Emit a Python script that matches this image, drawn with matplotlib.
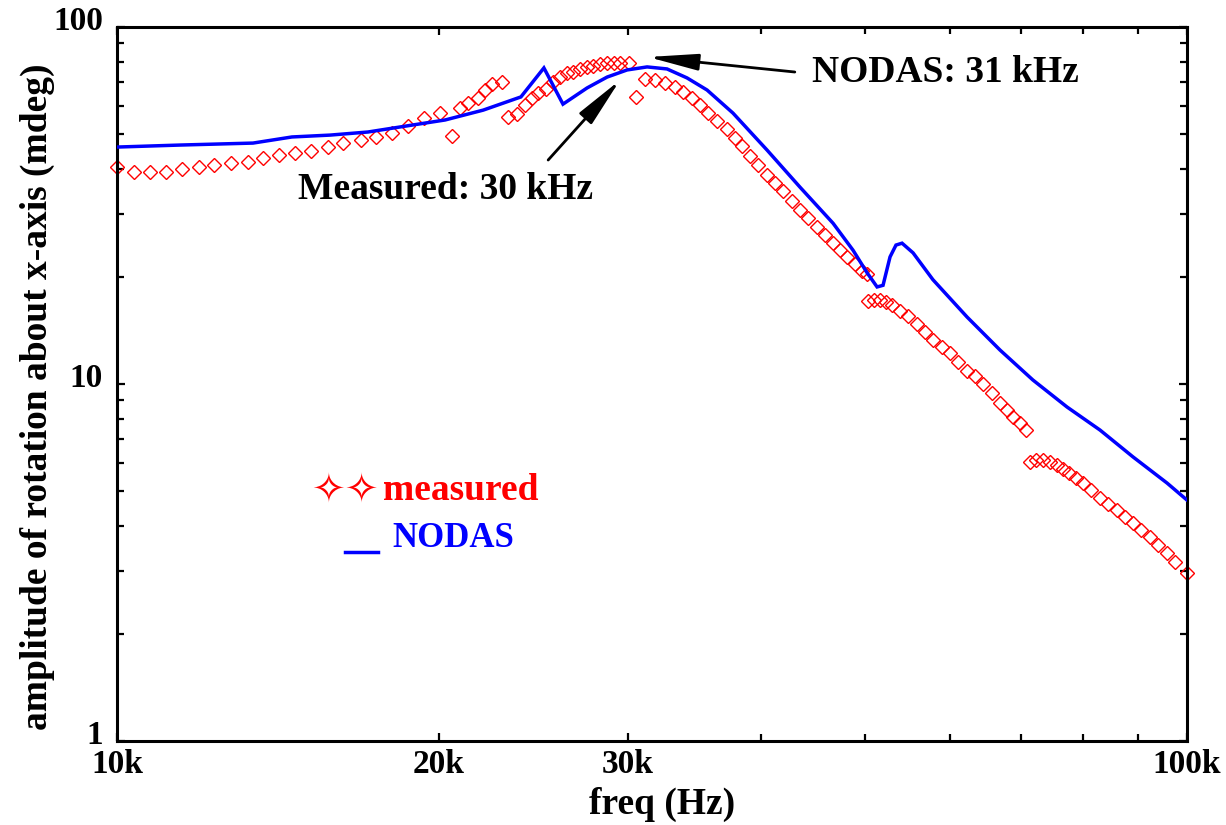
import matplotlib
matplotlib.use("Agg")
from matplotlib import pyplot as plt
from matplotlib.ticker import FixedLocator, NullFormatter
from matplotlib.lines import Line2D
from matplotlib.transforms import ScaledTranslation

# NODAS simulation (blue line)
nodas_freq = [10000, 11450, 13400, 14570, 15820, 17160, 18630, 20260, 21990, 23850,
              25060, 26110, 27500, 28710, 29970, 31290, 32660, 34100, 35600, 37640,
              40510, 43480, 46690, 48740, 50230, 51330, 51990, 52780, 53460, 54160,
              55460, 57880, 62300, 66870, 71780, 77250, 82930, 89020, 95790, 100000]
nodas_amp = [46.1, 46.7, 47.3, 49.2, 49.8, 50.8, 52.8, 54.9, 58.5, 63.7,
             76.8, 60.8, 67.5, 72.4, 75.8, 77.3, 76.3, 72.0, 66.6, 57.4,
             45.2, 35.6, 28.2, 23.7, 20.5, 18.7, 18.9, 22.7, 24.5, 24.8,
             23.3, 19.6, 15.4, 12.45, 10.26, 8.62, 7.43, 6.25, 5.28, 4.73]

# measured data (red diamonds)
meas_freq = [10000, 10370, 10740, 11110, 11500, 11930, 12320, 12780, 13260, 13690,
             14170, 14670, 15180, 15750, 16260, 16900, 17460, 18070, 18710, 19360, 20040,
             20560, 20920, 21280, 21750, 22080, 22420, 22900,
             23200, 23650, 24060, 24430, 24750, 25180, 25560, 25940, 26340, 26680,
             27080, 27500, 27860, 28280, 28710, 29110, 29520, 30090,
             30550,
             31150, 31830, 32520, 33230, 33810, 34460, 35060, 35670, 36370, 37160,
             37800, 38380, 39040, 39720, 40510, 41210, 41930, 42740, 43480, 44230,
             45100, 45880, 46690, 47380, 48100, 48940, 49680, 50230,
             50340, 50990, 51650, 52320, 53000, 53920, 54860, 55920, 56890, 57880,
             59020, 60040, 61090, 62300, 63370, 64460, 65730, 66870, 67880, 68770,
             69820, 70720,
             71330, 72250, 73350, 74470, 75600, 76580, 77570, 78760, 79950, 81340,
             82930, 84370, 86020, 87520, 89020, 90580, 92330, 93950, 95790, 97450, 100000]
meas_amp = [40.5, 39.3, 39.3, 39.3, 40.0, 40.5, 41.1, 41.6, 41.9, 43.0,
            43.8, 44.4, 45.0, 46.1, 47.3, 48.3, 49.2, 50.5, 52.8, 55.6, 57.4,
            49.5, 59.3, 61.3, 63.2, 66.6, 69.2, 70.1,
            56.0, 57.1, 60.4, 63.2, 65.3, 67.1, 70.1, 72.4, 74.3, 74.8,
            76.3, 77.3, 77.8, 78.8, 79.3, 79.3, 79.3, 79.3,
            63.7,
            71.5, 71.0, 69.7, 67.9, 65.8, 63.2, 60.4, 57.4, 54.5, 51.8,
            48.9, 46.4, 43.5, 41.1, 38.5, 36.6, 34.7, 32.6, 30.7, 29.2,
            27.5, 26.1, 24.8, 23.7, 22.7, 21.7, 20.7, 20.3,
            17.1, 17.2, 17.2, 17.0, 16.6, 16.0, 15.5, 14.7, 14.0, 13.3,
            12.7, 12.2, 11.5, 10.9, 10.5, 10.0, 9.44, 8.85, 8.46, 8.08,
            7.78, 7.43,
            6.05, 6.13, 6.13, 6.05, 5.93, 5.78, 5.63, 5.45, 5.28, 5.05,
            4.79, 4.61, 4.44, 4.24, 4.08, 3.90, 3.73, 3.54, 3.36, 3.17, 2.95]

x_major = [10000, 20000, 30000, 100000]
x_major_labels = ["10k", "20k", "30k", "100k"]
x_minor = [40000, 50000, 60000, 70000, 80000, 90000]
y_major = [1, 10, 100]
y_major_labels = ["1", "10", "100"]
y_minor = [2, 3, 4, 5, 6, 7, 8, 9, 20, 30, 40, 50, 60, 70, 80, 90]

# peak annotations: (label, arrow tip, arrow tail)
nodas_peak = ("NODAS: 31 kHz", (31350, 82.4), (43000, 74.8))
meas_peak = ("Measured: 30 kHz", (29520, 71.0), (25290, 42.4))

SERIF = "Liberation Serif"

fig = plt.figure(figsize=(12.26, 8.25), dpi=100)
ax = fig.add_axes([117 / 1226, 1 - 741 / 825, 1070 / 1226, 714 / 825])
ax.set_xscale("log")
ax.set_yscale("log")
ax.set_xlim(10000, 100000)
ax.set_ylim(1, 100)

ax.plot(nodas_freq, nodas_amp, color="#0000ff", lw=2.5, solid_joinstyle="miter", zorder=3)
ax.plot(meas_freq, meas_amp, ls="none", marker="D", ms=7.2, mfc="none", mec="#ff0000",
        mew=1.0, clip_on=False, zorder=2)

# ticks
ax.xaxis.set_major_locator(FixedLocator(x_major))
ax.xaxis.set_minor_locator(FixedLocator(x_minor))
ax.set_xticklabels(x_major_labels)
ax.xaxis.set_minor_formatter(NullFormatter())
ax.yaxis.set_major_locator(FixedLocator(y_major))
ax.yaxis.set_minor_locator(FixedLocator(y_minor))
ax.set_yticklabels(y_major_labels)
ax.yaxis.set_minor_formatter(NullFormatter())
ax.tick_params(which="both", direction="in", top=True, right=True, width=1.6, color="black")
ax.tick_params(which="major", length=6)
ax.tick_params(which="minor", length=5)
ax.tick_params(axis="x", which="major", pad=6)
ax.tick_params(axis="y", which="major", pad=10)
for lab in ax.get_xticklabels() + ax.get_yticklabels():
    lab.set_fontfamily(SERIF)
    lab.set_fontweight("bold")
    lab.set_fontsize(24)
# y labels sit a bit above their ticks in the original
up = ScaledTranslation(0, 9 / 100, fig.dpi_scale_trans)
for lab in ax.get_yticklabels():
    lab.set_transform(lab.get_transform() + up)
for sp in ax.spines.values():
    sp.set_linewidth(2.2)

ax.set_xlabel("freq (Hz)", fontfamily=SERIF, fontweight="bold", fontsize=27)
ax.xaxis.set_label_coords(0.509, -0.064)
ax.set_ylabel("amplitude of rotation about x-axis (mdeg)", fontfamily=SERIF,
              fontweight="bold", fontsize=27)
ax.yaxis.set_label_coords(-0.058, 0.482)

# arrows + labels for the peaks
arrow = dict(arrowstyle="-|>,head_length=1.7,head_width=0.28", color="black", lw=2,
             shrinkA=0, shrinkB=0, mutation_scale=18)
ax.annotate("", xy=nodas_peak[1], xytext=nodas_peak[2], arrowprops=arrow)
ax.text(44600, nodas_peak[2][1], nodas_peak[0], fontfamily=SERIF, fontweight="bold",
        fontsize=27, ha="left", va="center")
ax.annotate("", xy=meas_peak[1], xytext=meas_peak[2], arrowprops=arrow)
ax.text(20260, 35.0, meas_peak[0], fontfamily=SERIF, fontweight="bold",
        fontsize=27, ha="center", va="center")

# hand made legend
ax.text(0.182, 0.3515, "\u2727\u2727", transform=ax.transAxes, color="#ff0000",
        fontfamily="DejaVu Sans", fontsize=29, ha="left", va="center")
ax.text(0.2486, 0.3515, "measured", transform=ax.transAxes, color="#ff0000",
        fontfamily=SERIF, fontweight="bold", fontsize=27, ha="left", va="center")
ax.add_line(Line2D([0.213, 0.244], [0.2647, 0.2647], transform=ax.transAxes,
                   color="#0000ff", lw=2.5))
ax.text(0.257, 0.284, "NODAS", transform=ax.transAxes, color="#0000ff",
        fontfamily=SERIF, fontweight="bold", fontsize=25, ha="left", va="center")

plt.savefig("out.png", dpi=100)
